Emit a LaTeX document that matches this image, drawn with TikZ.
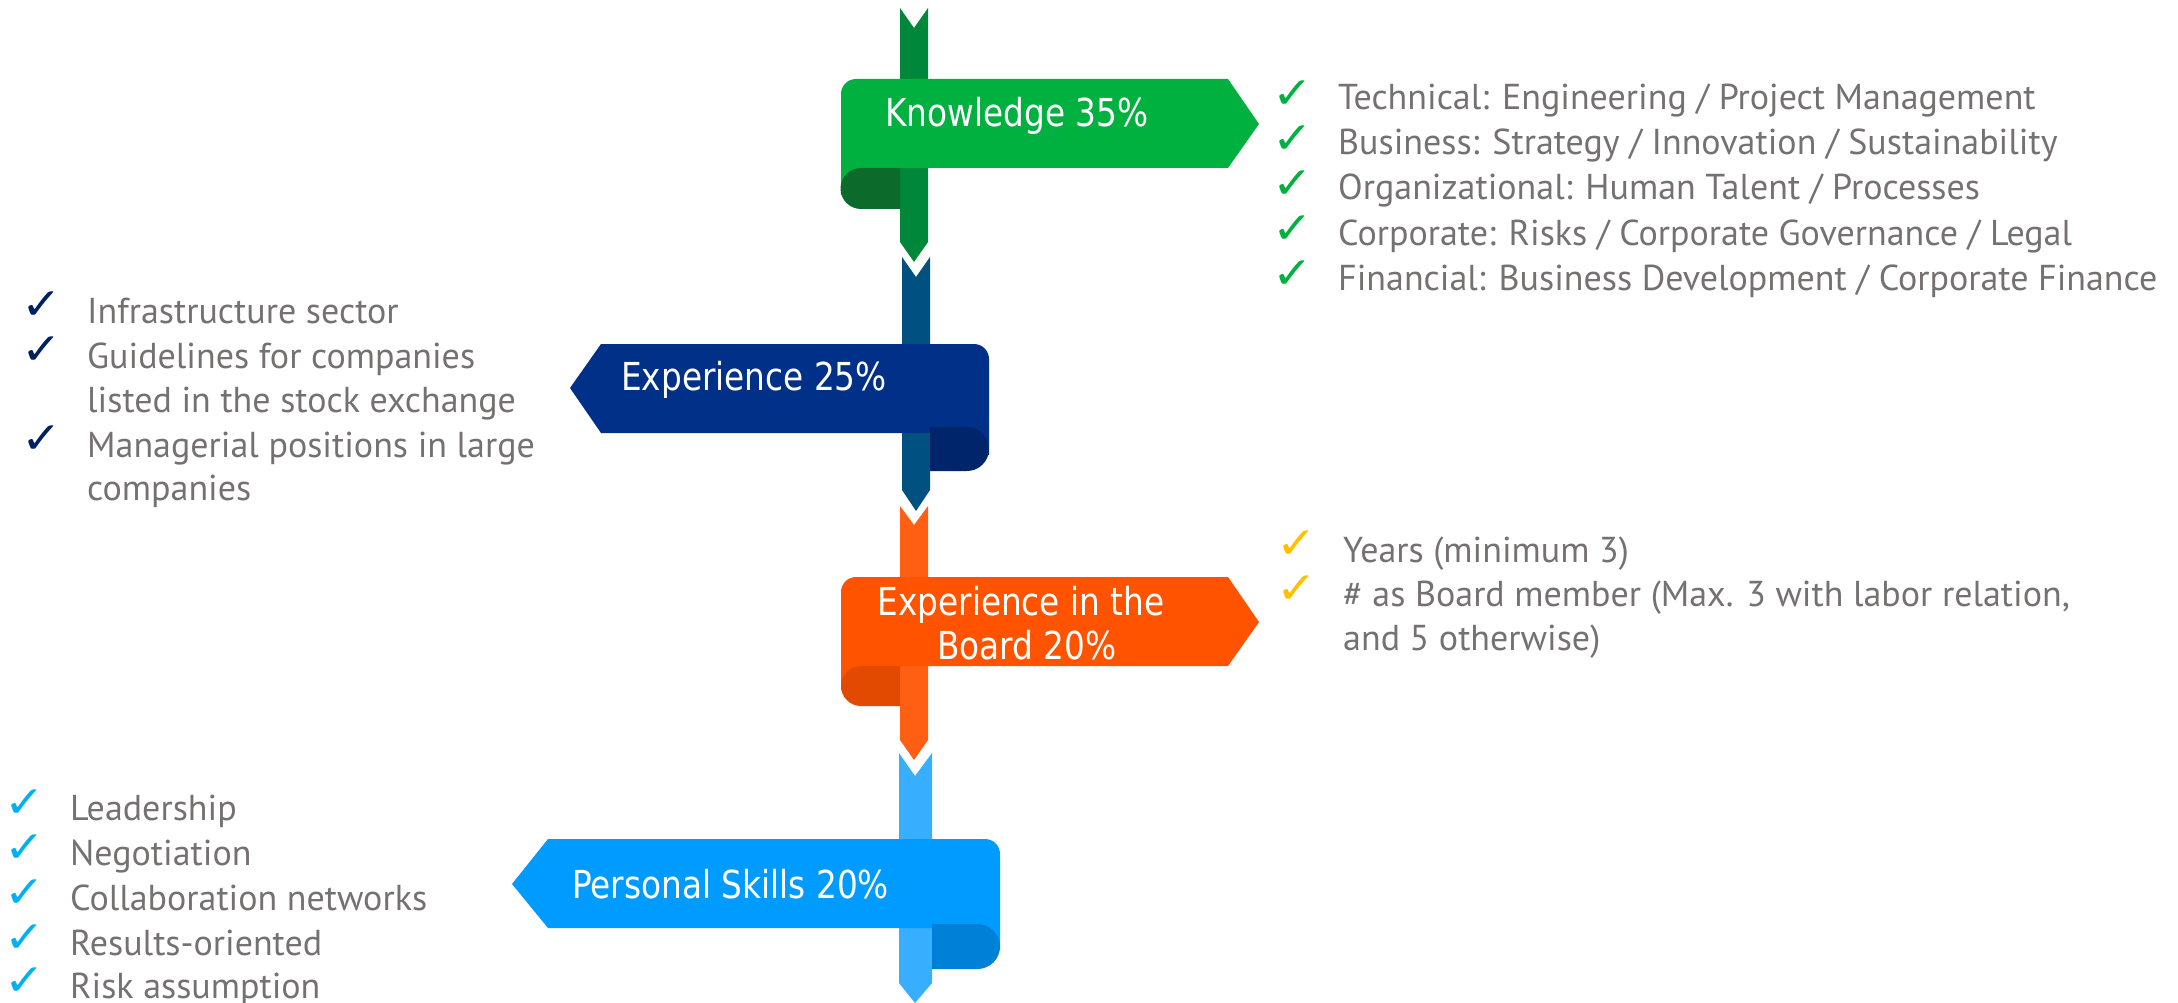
\documentclass[tikz,border=0pt]{standalone}
\usepackage{fontspec}
\setmainfont{PT Sans}
\newfontfamily\listfont{PT Sans}
\newfontfamily\bannerfont[FakeStretch=0.85]{DejaVu Sans}
\newfontfamily\chkfont[FakeStretch=1.1]{DejaVu Sans}
\definecolor{bG}{HTML}{00B140}\definecolor{sG}{HTML}{00873A}\definecolor{fG}{HTML}{0C6A2A}
\definecolor{bB}{HTML}{003087}\definecolor{sB}{HTML}{005080}\definecolor{fB}{HTML}{01256A}
\definecolor{bO}{HTML}{FF5300}\definecolor{sO}{HTML}{FF5F13}\definecolor{fO}{HTML}{E24A02}
\definecolor{bL}{HTML}{009BFF}\definecolor{sL}{HTML}{38AEFF}\definecolor{fL}{HTML}{0080D6}
\definecolor{txtgray}{HTML}{767171}
\definecolor{cG}{HTML}{00B140}\definecolor{cN}{HTML}{002060}
\definecolor{cY}{HTML}{FFC000}\definecolor{cL}{HTML}{00B0F0}
\begin{document}
\begin{tikzpicture}[x=1pt,y=-1pt,
  btext/.style={anchor=base west,inner sep=0pt,text=white,font=\bannerfont\fontsize{38.5}{44}\selectfont},
  lst/.style={anchor=base west,inner sep=0pt,text=txtgray,font=\listfont\fontsize{36}{42}\selectfont},
  chk/.style={anchor=center,inner sep=0pt,font=\chkfont\fontsize{44}{48}\selectfont}]
\useasboundingbox (0,0) rectangle (2178,1003);
% ---------- green unit ----------
\fill[sG] (900,8) -- (914,28) -- (928,8) -- (928,242) -- (914,262) -- (900,242) -- cycle;
\fill[bG] (880,195) -- (841,195) -- (841,94) arc[start angle=180,end angle=270,radius=15] -- (1228,79) -- (1259,124) -- (1228,168) -- (880,168) -- cycle;
\fill[fG] (900,168) -- (861,168) arc[start angle=270,end angle=90,radius=20.5] -- (900,209) -- cycle;
% ---------- blue unit ----------
\fill[sB] (902,257) -- (916,277) -- (930,257) -- (930,490) -- (916,511) -- (902,490) -- cycle;
\fill[bB] (960,455) -- (989,455) -- (989,359) arc[start angle=0,end angle=-90,radius=15] -- (601,344) -- (570,388) -- (601,433) -- (960,433) -- cycle;
\fill[fB] (930,427) -- (967,427) arc[start angle=-90,end angle=90,radius=22] -- (930,471) -- cycle;
% ---------- orange unit ----------
\fill[sO] (900,506) -- (914,525) -- (928,506) -- (928,740) -- (914,760) -- (900,740) -- cycle;
\fill[bO] (880,690) -- (841,690) -- (841,592) arc[start angle=180,end angle=270,radius=15] -- (1228,577) -- (1259,622) -- (1228,666) -- (880,666) -- cycle;
\fill[fO] (900,666) -- (861,666) arc[start angle=270,end angle=90,radius=20] -- (900,706) -- cycle;
% ---------- light blue unit ----------
\fill[sL] (899,753) -- (915,776) -- (932,753) -- (932,983) -- (915,1003) -- (899,983) -- cycle;
\fill[bL] (970,950) -- (1000,950) -- (1000,854) arc[start angle=0,end angle=-90,radius=15] -- (548,839) -- (512,884) -- (548,928) -- (970,928) -- cycle;
\fill[fL] (932,924) -- (977.5,924) arc[start angle=-90,end angle=90,radius=22.5] -- (932,969) -- cycle;
% ---------- banner texts ----------
\node[btext] (tK) at (885,127) {Knowledge 35\%};
\node[btext] (tE) at (621,390) {Experience 25\%};
\node[btext,anchor=base] (tB1) at (1021,615) {Experience in the};
\node[btext,anchor=base] (tB2) at (1027,659) {Board 20\%};
\node[btext] (tP) at (572,898) {Personal Skills 20\%};
% ---------- green list ----------
\foreach \y/\t [count=\i] in {110/{Technical: Engineering / Project Management},
  155/{Business: Strategy / Innovation / Sustainability},
  200/{Organizational: Human Talent / Processes},
  245/{Corporate: Risks / Corporate Governance / Legal},
  290/{Financial: Business Development / Corporate Finance}}{
  \node[chk,text=cG] (gc\i) at (1293,\y-15) {✓};
  \node[lst] (gt\i) at (1338,\y) {\t};
}
% ---------- yellow list ----------
\node[chk,text=cY] (yc1) at (1297,545) {✓};
\node[lst] (yt1) at (1343,562) {Years (minimum 3)};
\node[chk,text=cY] (yc2) at (1297,590) {✓};
\node[lst] (yt2) at (1343,606) {\# as Board member (Max. 3 with labor relation,};
\node[lst] (yt3) at (1343,650) {and 5 otherwise)};
% ---------- navy list ----------
\node[chk,text=cN] (nc1) at (42,306) {✓};
\node[lst] (nt1) at (87,323) {Infrastructure sector};
\node[chk,text=cN] (nc2) at (42,351) {✓};
\node[lst] (nt2) at (87,368) {Guidelines for companies};
\node[lst] (nt3) at (87,412) {listed in the stock exchange};
\node[chk,text=cN] (nc3) at (42,440) {✓};
\node[lst] (nt4) at (87,457) {Managerial positions in large};
\node[lst] (nt5) at (87,500) {companies};
% ---------- light blue list ----------
\foreach \y/\t [count=\i] in {820/Leadership,865/Negotiation,910/Collaboration networks,955/Results-oriented,998/Risk assumption}{
  \node[chk,text=cL] (lc\i) at (25,\y-16) {✓};
  \node[lst] (lt\i) at (70,\y) {\t};
}
\end{tikzpicture}
\end{document}
